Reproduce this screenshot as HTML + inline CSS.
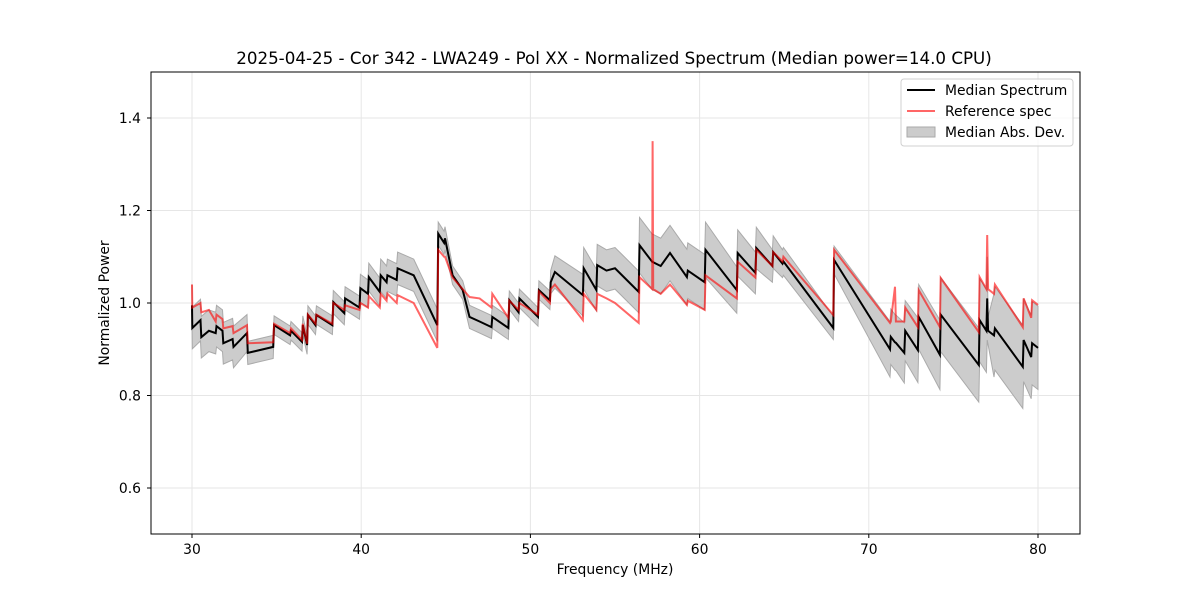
<!DOCTYPE html>
<html><head><meta charset="utf-8"><style>
body{margin:0;background:#fff}
svg text{font-family:"DejaVu Sans","Liberation Sans",sans-serif;fill:#000}
</style></head><body>
<svg id="chart" width="1200" height="600" xmlns="http://www.w3.org/2000/svg">
<rect width="1200" height="600" fill="#fff"/>
<g id="grid"></g>
<g id="marks"></g>
<rect x="151" y="72" width="929" height="462" fill="none" stroke="#000" stroke-width="1"/>
<g id="ticks"></g>
<text x="614" y="64" font-size="16.7" text-anchor="middle">2025-04-25 - Cor 342 - LWA249 - Pol XX - Normalized Spectrum (Median power=14.0 CPU)</text>
<text x="615" y="574" font-size="13.9" text-anchor="middle">Frequency (MHz)</text>
<text x="109" y="303" font-size="13.9" text-anchor="middle" transform="rotate(-90 109 303)">Normalized Power</text>
<g>
<rect x="901" y="79" width="172" height="67" rx="3" fill="#fff" fill-opacity="0.8" stroke="#d0d0d0"/>
<line x1="907" y1="90" x2="935" y2="90" stroke="#000" stroke-width="2"/>
<text x="945" y="95" font-size="13.9">Median Spectrum</text>
<line x1="907" y1="111" x2="935" y2="111" stroke="rgba(255,0,0,0.6)" stroke-width="2"/>
<text x="945" y="116" font-size="13.9">Reference spec</text>
<rect x="907" y="127" width="28" height="10" fill="#ccc" stroke="#aaa"/>
<text x="945" y="137" font-size="13.9">Median Abs. Dev.</text>
</g>
</svg>
<script>
const freq=[30.0,30.02,30.5,30.55,31.0,31.4,31.45,31.8,31.85,32.4,32.45,33.25,33.3,34.8,34.85,35.8,35.85,36.5,36.55,36.8,36.85,37.3,37.35,38.3,38.35,39.0,39.05,39.9,39.95,40.4,40.45,41.1,41.15,41.5,41.55,42.1,42.15,43.1,44.5,44.55,44.9,44.95,45.4,46.0,46.4,47.0,47.7,47.75,48.7,48.75,49.3,49.35,50.45,50.5,51.15,51.2,51.45,53.1,53.15,53.9,53.95,54.5,55.0,56.4,56.45,57.2,57.22,57.26,57.7,58.25,59.25,59.3,60.3,60.35,62.2,62.25,63.3,63.35,64.3,64.35,64.9,64.95,67.9,67.95,71.25,71.3,71.55,71.6,72.1,72.15,72.9,72.95,74.2,74.25,76.5,76.55,76.95,77.0,77.05,77.4,77.45,79.1,79.15,79.6,79.65,80.0];
const median=[.995,.946,.963,.926,.94,.935,.95,.94,.913,.922,.905,.935,.892,.905,.952,.93,.94,.916,.952,.909,.974,.952,.974,.952,1.002,.978,1.01,.99,1.032,1.02,1.056,1.024,1.06,1.045,1.06,1.05,1.075,1.06,.952,1.15,1.13,1.14,1.06,1.028,.97,.96,.948,.97,.946,1.006,.98,1.01,.97,1.028,1.006,1.045,1.067,1.017,1.075,1.028,1.082,1.07,1.075,1.024,1.125,1.089,1.089,1.088,1.08,1.108,1.056,1.07,1.045,1.115,1.028,1.108,1.065,1.119,1.08,1.11,1.085,1.09,.946,1.093,.90,.927,.915,.914,.892,.94,.898,.97,.888,.975,.866,.963,.94,1.01,.94,.93,.945,.862,.92,.883,.913,.903];
const reference=[1.04,.99,1.0,.98,.985,.96,.975,.965,.945,.95,.935,.952,.913,.915,.955,.935,.945,.92,.955,.912,.975,.955,.975,.955,1.0,.985,.995,.985,1.0,.99,1.015,.99,1.02,1.005,1.02,1.0,1.017,1.0,.903,1.115,1.10,1.10,1.055,1.03,1.013,1.01,.99,1.02,.968,1.005,.985,1.0,.975,1.025,1.0,1.03,1.04,.963,1.02,.985,1.02,1.01,1.0,.957,1.056,1.03,1.35,1.03,1.02,1.04,.996,1.005,.985,1.06,1.01,1.089,1.055,1.115,1.08,1.11,1.09,1.10,.974,1.115,.957,.96,1.035,.96,.96,.99,.948,1.028,.948,1.054,.937,1.056,1.03,1.147,1.03,1.02,1.04,.948,1.01,.968,1.006,.996];
const mad=[.045,.045,.045,.045,.045,.045,.045,.045,.045,.045,.045,.04,.025,.025,.02,.02,.02,.02,.02,.02,.02,.02,.02,.02,.025,.025,.025,.025,.03,.03,.03,.03,.035,.035,.035,.035,.035,.035,.035,.025,.025,.025,.02,.02,.025,.025,.025,.025,.025,.02,.02,.02,.02,.02,.02,.025,.035,.045,.045,.045,.045,.045,.045,.045,.06,.06,.06,.06,.06,.06,.06,.06,.06,.06,.05,.05,.045,.045,.035,.035,.03,.03,.025,.03,.06,.06,.06,.06,.065,.065,.07,.07,.075,.08,.08,.09,.09,.09,.03,.09,.09,.09,.09,.09,.09,.09];
const xTicks=[30,40,50,60,70,80];
const yTicks=[0.6,0.8,1.0,1.2,1.4];
const yTickLabels=["0.6","0.8","1.0","1.2","1.4"];

const X=f=>192+(f-30)*16.92;
const Y=v=>303-(v-1)*462.5;
const NS="http://www.w3.org/2000/svg";
function mk(tag,parent){const e=document.createElementNS(NS,tag);parent.appendChild(e);return e;}
const grid=document.getElementById('grid'),ticks=document.getElementById('ticks'),marks=document.getElementById('marks');
xTicks.forEach(t=>{
  const g=mk('line',grid);
  
  
  g.setAttribute('x1',X(t));g.setAttribute('x2',X(t));g.setAttribute('y1',72);g.setAttribute('y2',534);g.setAttribute('stroke','#e6e6e6');
  const tk=mk('line',ticks);
  
  
  tk.setAttribute('x1',X(t));tk.setAttribute('x2',X(t));tk.setAttribute('y1',534);tk.setAttribute('y2',538);tk.setAttribute('stroke','#000');
  const tx=mk('text',ticks);
  
  
  tx.setAttribute('x',X(t));tx.setAttribute('y',554);tx.setAttribute('font-size','13.9');tx.setAttribute('text-anchor','middle');tx.textContent=t;
});
yTicks.forEach((t,i)=>{
  const g=mk('line',grid);
  
  
  g.setAttribute('x1',151);g.setAttribute('x2',1080);g.setAttribute('y1',Y(t));g.setAttribute('y2',Y(t));g.setAttribute('stroke','#e6e6e6');
  const tk=mk('line',ticks);
  
  
  tk.setAttribute('x1',147);tk.setAttribute('x2',151);tk.setAttribute('y1',Y(t));tk.setAttribute('y2',Y(t));tk.setAttribute('stroke','#000');
  const tx=mk('text',ticks);
  
  
  tx.setAttribute('x',141);tx.setAttribute('y',Y(t)+5);tx.setAttribute('font-size','13.9');tx.setAttribute('text-anchor','end');tx.textContent=yTickLabels[i];
});
let up=[],lo=[];
freq.forEach((f,i)=>{up.push(X(f).toFixed(1)+','+Y(median[i]+mad[i]).toFixed(1));lo.push(X(f).toFixed(1)+','+Y(median[i]-mad[i]).toFixed(1));});
const band=mk('polygon',marks);


band.setAttribute('points',up.concat(lo.reverse()).join(' '));
band.setAttribute('fill','#cccccc');band.setAttribute('stroke','#aaaaaa');band.setAttribute('stroke-width','1');
const med=mk('polyline',marks);


med.setAttribute('points',freq.map((f,i)=>X(f).toFixed(1)+','+Y(median[i]).toFixed(1)).join(' '));
med.setAttribute('fill','none');med.setAttribute('stroke','#000');med.setAttribute('stroke-width','2');
const ref=mk('polyline',marks);


ref.setAttribute('points',freq.map((f,i)=>X(f).toFixed(1)+','+Y(reference[i]).toFixed(1)).join(' '));
ref.setAttribute('fill','none');ref.setAttribute('stroke','rgba(255,0,0,0.6)');ref.setAttribute('stroke-width','2');
</script>
</body></html>
